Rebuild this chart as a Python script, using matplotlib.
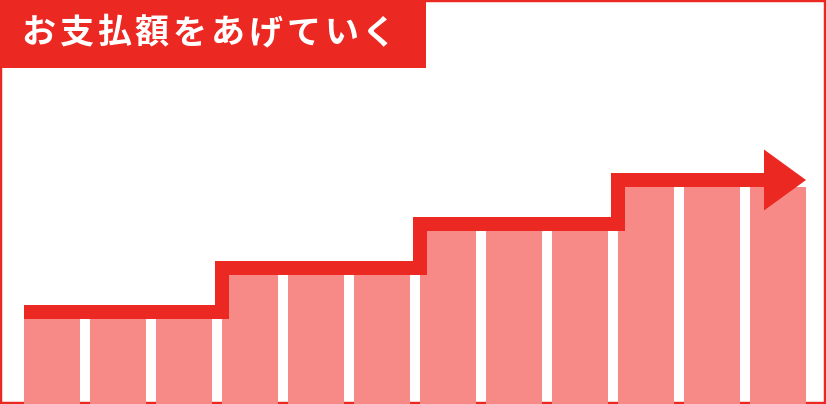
import numpy as np
import matplotlib
matplotlib.use('Agg')
import matplotlib.pyplot as plt
import matplotlib.transforms as mtransforms
from matplotlib.patches import Rectangle, Polygon

plt.rcParams['font.family'] = ['Noto Sans CJK JP', 'DejaVu Sans']

title = 'お支払額をあげていく'
months = np.arange(12)
payments = [2, 2, 2, 3, 3, 3, 4, 4, 4, 5, 5, 5]

red = '#EC2822'
pink = '#F78A86'
bar_w = 56 / 66

fig = plt.figure(figsize=(8.26, 4.04), dpi=100)
ax = fig.add_axes([0, 0, 1, 1])
ax.set_xlim(-52 / 66, (826 - 52) / 66)
ax.set_ylim(3 / 44, 407 / 44)
ax.axis('off')

# frame
ax.add_patch(Rectangle((0, 0), 1, 1, transform=ax.transAxes, fill=False,
                       ec=red, lw=3.2, zorder=0))

ax.bar(months, payments, width=bar_w, color=pink, zorder=2)

# step line sitting on top of the bars
vals = np.array(payments)
change = np.r_[True, vals[1:] != vals[:-1]]
xs = list(months[change] - bar_w / 2)
ys = list(vals[change])
tip = months[-1] + bar_w / 2
head_len = 42 / 66
xs.append(tip - head_len)
ys.append(ys[-1])
up = mtransforms.offset_copy(ax.transData, fig=fig, x=0, y=7, units='dots')
ax.step(xs, ys, where='post', color=red, lw=14 * 72 / 100,
        solid_joinstyle='miter', solid_capstyle='butt', transform=up, zorder=3)
hh = 30.5 / 44
ax.add_patch(Polygon([(tip - head_len, ys[-1] + hh), (tip, ys[-1]),
                      (tip - head_len, ys[-1] - hh)], closed=True,
                     fc=red, ec='none', transform=up, zorder=3))

# title box
ax.add_patch(Rectangle((0, 1 - 68 / 404), 426 / 826, 68 / 404,
                       transform=ax.transAxes, fc=red, ec='none', zorder=4))
for i, ch in enumerate(title):
    fig.text((38.5 + 37.8 * i) / 826, 1 - 33 / 404, ch, color='white',
             fontsize=24.5, fontweight='bold', ha='center', va='center', zorder=5)

fig.savefig('out.png', dpi=100)
